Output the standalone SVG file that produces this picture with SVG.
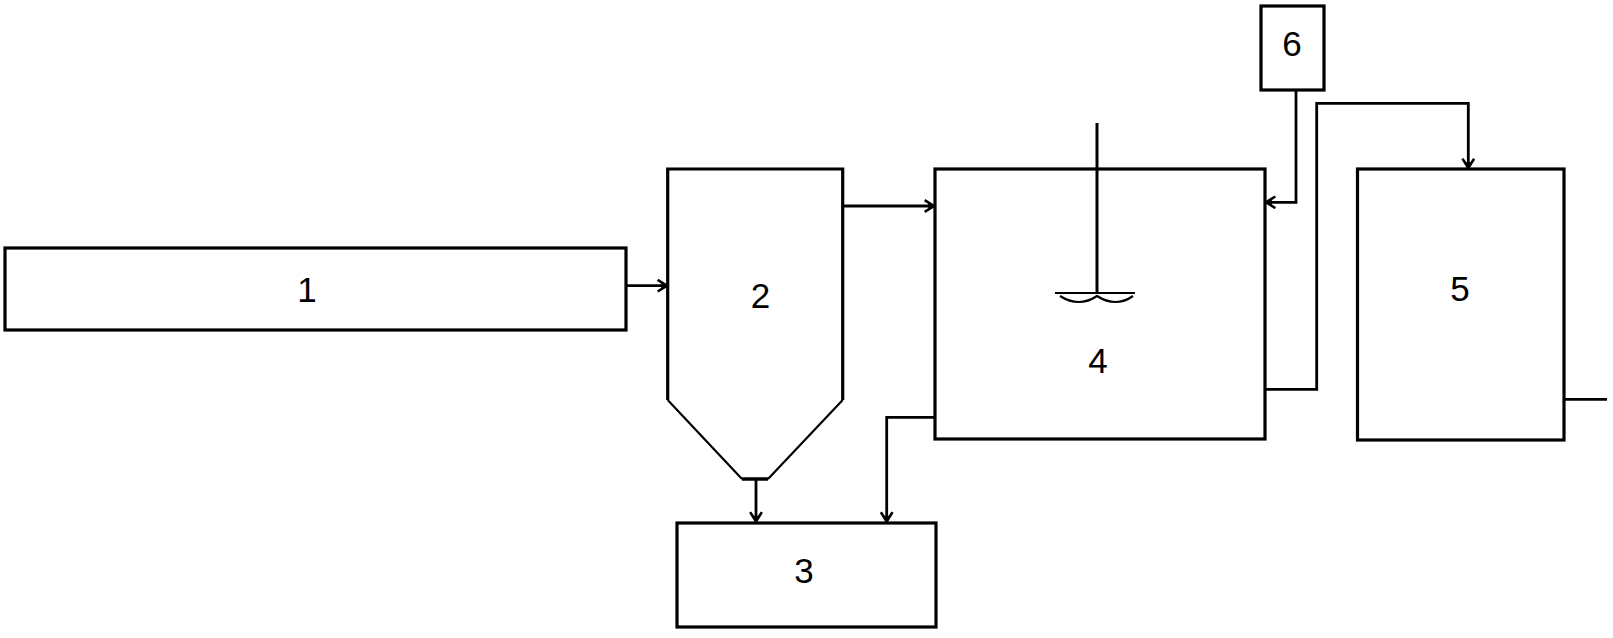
<svg xmlns="http://www.w3.org/2000/svg" width="1613" height="638" viewBox="0 0 1613 638">
<style>
.box{fill:#fff;stroke:#000;stroke-width:3.2}
.ln{fill:none;stroke:#000;stroke-width:2.8}
.thin{fill:none;stroke:#000;stroke-width:2.2}
.lbl{font-family:"Liberation Sans",Arial,sans-serif;font-size:35px;fill:#000;text-anchor:middle}
</style>
<defs>
<marker id="ah" markerUnits="userSpaceOnUse" markerWidth="14" markerHeight="14" refX="10" refY="6" orient="auto" viewBox="0 0 12 12">
<path d="M2,1 L10,6 L2,11" fill="none" stroke="#000" stroke-width="2.2"/>
<path d="M5,3.5 L10,6 L5,8.5 Z" fill="#000"/>
</marker>
</defs>
<rect width="1613" height="638" fill="#fff"/>
<g id="node1">
<rect class="box" x="5" y="248" width="621" height="82"/>
<text class="lbl" x="307" y="302">1</text>
</g>
<g id="node2">
<path class="box" d="M667.7,400 V169 H842.7 V400"/>
<path class="thin" d="M667.7,400 L742,479 M842.7,400 L768,479"/>
<path d="M742,479 H768" stroke="#000" stroke-width="3.5"/>
<text class="lbl" x="760.5" y="308">2</text>
</g>
<g id="node3">
<rect class="box" x="677" y="523" width="259" height="104"/>
<text class="lbl" x="804" y="583">3</text>
</g>
<g id="node4">
<rect class="box" x="935" y="169" width="330" height="270"/>
<path d="M1097,123 V294" stroke="#000" stroke-width="3"/>
<path class="thin" d="M1055,293 H1135"/>
<path class="thin" d="M1060,296 Q1079,308 1097,296 Q1116,308 1133,296"/>
<text class="lbl" x="1098" y="373">4</text>
</g>
<g id="node5">
<rect class="box" x="1357.5" y="169" width="206.5" height="271"/>
<text class="lbl" x="1460" y="301">5</text>
</g>
<g id="node6">
<rect class="box" x="1261" y="6" width="63" height="84"/>
<text class="lbl" x="1292" y="56">6</text>
</g>
<g id="connectors">
<path class="ln" d="M626,285.7 H667" marker-end="url(#ah)"/>
<path class="ln" d="M842.7,206 H934" marker-end="url(#ah)"/>
<path class="ln" d="M756,479 V521.5" marker-end="url(#ah)"/>
<path class="ln" d="M935,417.3 H886.7 V521.5" marker-end="url(#ah)"/>
<path class="ln" d="M1296,90 V202.3 H1266" marker-end="url(#ah)"/>
<path class="ln" d="M1265,389.3 H1316.7 V103.3 H1468.3 V168" marker-end="url(#ah)"/>
<path class="ln" d="M1564,399.3 H1607"/>
</g>
</svg>
